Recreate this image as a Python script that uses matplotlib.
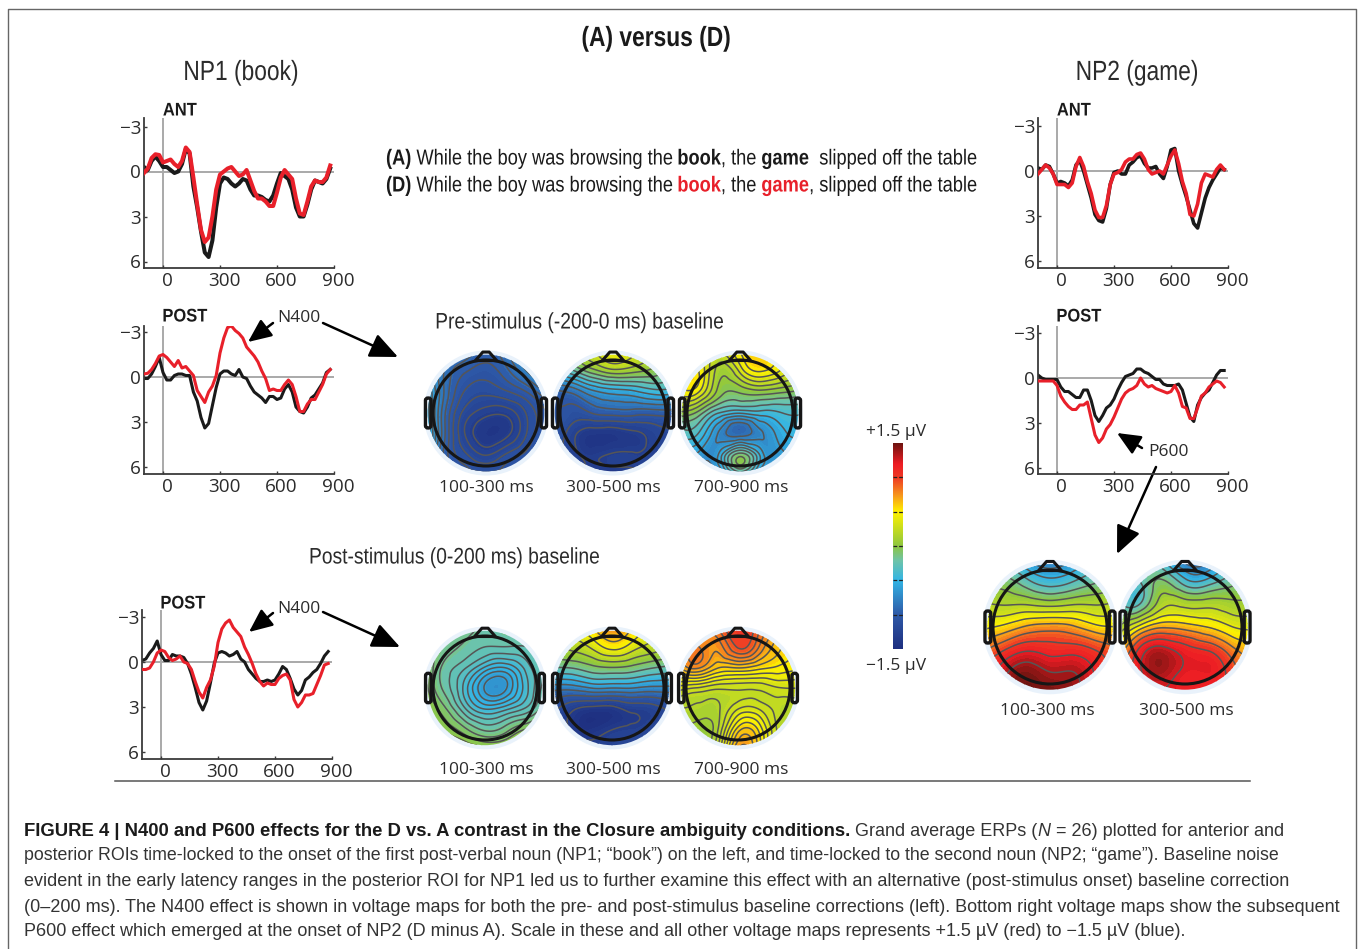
import numpy as np
import matplotlib
matplotlib.use("Agg")
import matplotlib.pyplot as plt
import matplotlib.tri as mtri
from matplotlib.colors import LinearSegmentedColormap
from matplotlib.patches import Circle, Polygon, FancyBboxPatch
from matplotlib.patheffects import AbstractPathEffect
from matplotlib.text import Text
from matplotlib.transforms import Affine2D, Bbox, ScaledTranslation

W, H = 1358, 949

# erp time base, one value every 20 ms
times = np.arange(-100, 881, 20)

np1_ant_black = [-0.3,-0.1,-0.7,-1.0,-0.7,-0.3,-0.3,-0.1,0.1,0.0,-0.5,-1.5,-1.2,1.0,2.4,4.0,5.4,5.7,4.6,2.4,0.8,0.4,0.5,0.8,1.0,0.8,0.5,0.6,1.2,1.6,1.6,1.7,1.9,2.0,1.6,0.8,0.1,0.3,0.5,1.2,2.4,3.0,3.0,2.2,1.2,0.6,0.7,0.8,0.5,-0.2]
np1_ant_red = [0.1,-0.2,-0.9,-1.15,-1.1,-0.6,-0.7,-0.8,-0.5,-0.3,-0.7,-1.6,-1.3,0.4,2.2,3.9,4.7,4.4,3.0,1.2,0.2,0.0,-0.2,-0.3,0.0,0.3,0.2,-0.1,0.6,1.3,1.8,1.8,2.0,2.3,2.3,1.4,0.4,-0.1,0.2,0.5,1.8,2.8,2.9,2.0,1.0,0.6,0.7,0.7,0.4,-0.4]
np1_post_black = [0.1,0.1,-0.2,-0.7,-1.3,-0.3,0.2,0.2,-0.1,-0.2,-0.2,-0.1,-0.1,1.0,1.6,2.7,3.4,3.1,1.9,0.7,-0.2,-0.4,-0.4,-0.2,-0.1,-0.5,0.0,0.1,0.6,1.0,1.2,1.4,1.7,1.3,1.3,1.5,1.4,0.8,0.5,1.0,2.0,2.3,2.4,2.0,1.4,1.2,0.8,0.4,-0.3,-0.5]
np1_post_red = [-0.2,-0.25,-0.5,-0.9,-1.4,-1.5,-1.3,-1.0,-0.7,-1.1,-0.6,-0.7,-0.4,-0.1,0.9,1.3,1.7,1.0,0.6,-0.1,-1.6,-2.6,-3.3,-3.4,-3.1,-2.9,-2.6,-2.0,-1.7,-1.4,-1.0,-0.4,0.1,0.9,0.8,0.9,0.9,0.5,0.2,0.5,1.3,2.3,2.3,1.8,1.5,1.5,1.0,0.5,-0.2,-0.5]
np1_base_black = [-0.1,-0.2,-0.6,-0.9,-1.4,-0.5,-0.1,-0.1,-0.5,-0.4,-0.4,-0.3,0.1,0.8,1.7,2.7,3.2,2.6,1.4,0.1,-0.6,-0.7,-0.6,-0.4,-0.5,-0.7,-0.2,0.0,0.5,0.8,1.1,1.3,1.3,1.2,1.3,1.2,0.8,0.3,0.5,1.1,1.8,2.2,1.9,1.2,1.0,0.7,0.5,0.1,-0.4,-0.7]
np1_base_red = [0.5,0.5,0.4,0.0,-0.6,-0.8,-0.7,-0.3,-0.1,-0.2,-0.4,0.0,0.1,0.5,1.3,2.0,2.4,1.7,1.2,0.3,-1.3,-2.2,-2.6,-2.8,-2.3,-2.0,-1.7,-1.0,-0.5,0.1,0.8,1.3,1.6,1.4,1.5,1.5,1.1,0.9,0.8,1.2,2.5,3.0,2.7,2.2,2.2,2.1,1.5,0.9,0.2,0.1]
np2_ant_black = [-0.2,-0.1,-0.4,-0.3,0.2,0.8,0.7,0.8,1.0,0.6,-0.4,-0.7,0.0,0.9,1.8,2.9,3.3,3.4,2.5,0.9,0.1,0.0,0.2,0.2,-0.4,-0.6,-0.9,-1.0,-0.5,-0.2,-0.2,-0.3,0.2,0.5,-0.3,-1.4,-1.5,0.0,0.9,1.7,2.6,3.5,3.8,2.8,1.8,1.1,0.6,0.2,-0.2,-0.1]
np2_ant_red = [0.2,-0.1,-0.4,-0.2,0.2,0.9,0.9,0.9,1.1,0.8,-0.3,-0.9,-0.3,0.7,1.5,2.6,3.1,3.1,2.3,0.9,0.2,0.1,-0.1,-0.6,-0.8,-0.8,-1.1,-1.2,-0.8,-0.1,0.2,0.1,0.0,0.2,-0.4,-1.0,-1.4,-0.5,0.7,1.5,2.9,3.0,2.2,0.8,0.2,0.3,0.4,-0.1,-0.4,-0.1]
np2_post_black = [-0.2,0.0,0.1,0.1,0.1,0.1,0.6,0.9,0.9,1.1,1.3,1.3,0.8,0.8,1.5,2.5,2.9,2.5,2.0,1.8,1.4,0.8,0.3,-0.1,-0.2,-0.3,-0.6,-0.6,-0.4,-0.3,-0.1,0.1,0.1,0.4,0.5,0.5,0.5,0.4,0.8,1.7,2.6,2.9,1.8,1.3,1.0,0.8,0.3,-0.2,-0.5,-0.5]
np2_post_red = [0.2,0.2,0.2,0.2,0.2,0.5,1.2,1.6,1.9,2.1,2.1,1.8,1.8,1.6,2.7,3.8,4.3,4.0,3.4,3.1,2.6,2.0,1.4,1.0,0.8,0.7,0.5,0.0,0.4,0.6,0.5,0.7,0.8,0.9,1.0,0.9,0.5,1.0,1.9,2.0,2.7,2.7,2.0,1.2,1.0,0.6,0.4,0.2,0.3,0.6]

y_ticks = [-3, 0, 3, 6]
y_tick_labels = ["\u22123", "0", "3", "6"]
x_ticks = [0, 300, 600, 900]

# voltage, 7x7 samples, top row first (front of head)
grid_pos = [-1.2, -0.8, -0.4, 0.0, 0.4, 0.8, 1.2]

pre_100_300 = [
    [-0.5,-0.7,-0.85,-0.95,-0.85,-0.6,-0.4],
    [-0.5,-0.85,-1.0,-1.05,-0.95,-0.75,-0.5],
    [-0.4,-0.85,-1.1,-1.15,-1.1,-1.0,-0.8],
    [-0.35,-0.9,-1.2,-1.3,-1.3,-1.15,-1.0],
    [-0.3,-0.9,-1.25,-1.4,-1.35,-1.15,-0.95],
    [-0.4,-0.95,-1.15,-1.25,-1.15,-1.05,-0.85],
    [-0.7,-0.95,-1.05,-1.05,-1.05,-0.95,-0.8]]
pre_300_500 = [
    [-0.1,0.05,0.25,0.4,0.3,0.15,0.0],
    [-0.5,-0.3,-0.05,0.1,0.05,-0.05,-0.2],
    [-0.95,-0.9,-0.7,-0.6,-0.55,-0.45,-0.5],
    [-1.0,-1.1,-1.05,-1.0,-1.0,-1.0,-1.0],
    [-1.0,-1.25,-1.4,-1.4,-1.35,-1.25,-1.2],
    [-1.1,-1.25,-1.35,-1.3,-1.3,-1.25,-1.2],
    [-1.2,-1.3,-1.4,-1.45,-1.4,-1.3,-1.2]]
pre_700_900 = [
    [0.4,0.4,0.3,0.5,0.55,0.4,0.3],
    [0.3,0.5,0.1,0.3,0.5,0.35,0.2],
    [0.4,0.4,0.0,-0.05,0.0,-0.05,-0.1],
    [0.0,-0.1,-0.4,-0.5,-0.45,-0.4,-0.4],
    [-0.4,-0.4,-0.75,-0.9,-0.75,-0.55,-0.5],
    [-0.6,-0.65,-0.6,-0.1,-0.55,-0.65,-0.65],
    [-0.8,-0.85,-0.8,-0.5,-0.8,-0.85,-0.8]]
post_100_300 = [
    [-0.1,-0.1,-0.15,-0.2,-0.2,-0.2,-0.15],
    [-0.05,-0.15,-0.2,-0.25,-0.25,-0.25,-0.15],
    [0.0,-0.2,-0.3,-0.45,-0.5,-0.35,-0.2],
    [0.0,-0.2,-0.4,-0.65,-0.65,-0.4,-0.2],
    [0.05,-0.1,-0.3,-0.45,-0.4,-0.3,-0.1],
    [0.1,0.0,-0.1,-0.2,-0.15,-0.05,0.0],
    [0.2,0.15,0.1,0.05,0.05,0.1,0.15]]
post_300_500 = [
    [0.1,0.3,0.6,0.75,0.6,0.3,0.2],
    [0.05,0.15,0.3,0.5,0.35,0.2,0.1],
    [-0.2,-0.2,-0.1,-0.05,-0.1,-0.2,-0.25],
    [-0.8,-0.8,-0.7,-0.7,-0.7,-0.75,-0.75],
    [-1.1,-1.3,-1.4,-1.4,-1.3,-1.25,-1.1],
    [-1.15,-1.35,-1.45,-1.35,-1.3,-1.2,-1.1],
    [-1.1,-1.2,-1.25,-1.25,-1.2,-1.1,-1.0]]
post_700_900 = [
    [0.7,0.75,0.9,1.0,0.9,0.7,0.55],
    [0.6,0.8,0.75,0.95,0.8,0.6,0.5],
    [0.6,0.75,0.6,0.6,0.55,0.5,0.45],
    [0.35,0.3,0.25,0.25,0.25,0.3,0.3],
    [0.15,0.15,0.15,0.3,0.3,0.2,0.2],
    [0.1,0.05,0.15,0.55,0.5,0.2,0.15],
    [0.05,0.05,0.25,0.75,0.55,0.2,0.1]]
p600_100_300 = [
    [-0.4,-0.45,-0.7,-0.85,-0.7,-0.5,-0.4],
    [-0.1,-0.1,-0.3,-0.45,-0.35,-0.2,-0.1],
    [0.2,0.15,0.15,0.1,0.15,0.15,0.2],
    [0.45,0.55,0.7,0.75,0.7,0.55,0.5],
    [0.8,1.0,1.15,1.1,1.1,1.0,0.85],
    [1.0,1.3,1.45,1.35,1.35,1.15,0.9],
    [1.1,1.35,1.5,1.5,1.4,1.2,1.0]]
p600_300_500 = [
    [-0.3,-0.2,-0.5,-0.9,-0.9,-0.5,-0.3],
    [-0.2,-0.3,-0.1,-0.4,-0.4,-0.2,-0.1],
    [-0.2,-0.3,0.15,0.15,0.15,0.1,0.1],
    [0.0,0.45,0.7,0.65,0.55,0.4,0.35],
    [0.5,1.1,1.3,1.15,1.05,0.8,0.6],
    [0.8,1.2,1.35,1.2,1.2,1.0,0.7],
    [1.0,1.15,1.2,1.2,1.15,1.05,0.8]]

caption_bold = "FIGURE 4 | N400 and P600 effects for the D vs. A contrast in the Closure ambiguity conditions."
caption_lines = [
    "posterior ROIs time-locked to the onset of the first post-verbal noun (NP1; \u201cbook\u201d) on the left, and time-locked to the second noun (NP2; \u201cgame\u201d). Baseline noise",
    "evident in the early latency ranges in the posterior ROI for NP1 led us to further examine this effect with an alternative (post-stimulus onset) baseline correction",
    "(0\u2013200 ms). The N400 effect is shown in voltage maps for both the pre- and post-stimulus baseline corrections (left). Bottom right voltage maps show the subsequent",
    "P600 effect which emerged at the onset of NP2 (D minus A). Scale in these and all other voltage maps represents +1.5 \u00b5V (red) to \u22121.5 \u00b5V (blue).",
]

voltage_cmap = LinearSegmentedColormap.from_list("voltage", [
    (0.00, "#1e2f80"), (0.167, "#2e5aa8"), (0.333, "#33b5e5"), (0.43, "#6fc4a8"),
    (0.50, "#8dc63f"), (0.667, "#fff200"), (0.75, "#f7941d"), (0.833, "#ee3a24"),
    (0.90, "#ed1c24"), (1.00, "#6e1410")])

NARROW = ["Liberation Sans"]
LABEL = ["Open Sans", "DejaVu Sans"]
INK = "#2b2b2b"

fig = plt.figure(figsize=(W / 100, H / 100), dpi=100, facecolor="white")
canvas = fig.add_axes([0, 0, 1, 1])
canvas.set_xlim(0, W)
canvas.set_ylim(H, 0)
canvas.axis("off")

canvas.plot([8, 8, 1356, 1356], [H, 9, 9, H], color="#666666", lw=1.0)
canvas.plot([115, 1250], [781, 781], color="#555555", lw=1.1)


def erp_panel(left, right, top, bottom, zero, black, red, lw):
    ax = fig.add_axes([left / W, 1 - bottom / H, (right - left) / W, (bottom - top) / H])
    ax.patch.set_alpha(0)
    ax.set_xlim(-100, 900)
    ax.set_ylim((bottom - zero) / 15, (top - zero) / 15)
    ax.axhline(0, color="#a9a9a9", lw=1.4, zorder=1)
    ax.axvline(0, color="#a9a9a9", lw=1.4, zorder=1)
    ax.plot(times, black, color="#1a1a1a", lw=lw, zorder=2, solid_joinstyle="round")
    ax.plot(times, red, color="#e8202a", lw=lw, zorder=3, solid_joinstyle="round")
    for side in ("top", "right"):
        ax.spines[side].set_visible(False)
    for side in ("left", "bottom"):
        ax.spines[side].set_color("#3a3a3a")
        ax.spines[side].set_linewidth(1.3)
    ax.set_xticks(x_ticks)
    ax.set_yticks(y_ticks)
    ax.set_yticklabels(y_tick_labels)
    ax.tick_params(direction="in", length=2.5, width=1, color="#3a3a3a", pad=3,
                   labelsize=13.6, labelcolor=INK)
    ax.tick_params(axis="y", pad=2)
    nudge = ScaledTranslation(4 / 100, 0, fig.dpi_scale_trans)
    for lab in ax.get_xticklabels():
        lab.set_family(LABEL)
        lab.set_transform(lab.get_transform() + nudge)
    for lab in ax.get_yticklabels():
        lab.set_family(LABEL)
    return ax


erp_panel(144, 334, 118, 268, 171.5, np1_ant_black, np1_ant_red, 2.9)
erp_panel(144, 334, 326, 474, 377, np1_post_black, np1_post_red, 2.2)
erp_panel(142, 332, 610, 759, 662, np1_base_black, np1_base_red, 2.2)
erp_panel(1038, 1228, 118, 268, 171, np2_ant_black, np2_ant_red, 2.6)
erp_panel(1038, 1228, 326, 474, 378, np2_post_black, np2_post_red, 2.2)

gx, gy = np.meshgrid(grid_pos, grid_pos)
base_tri = mtri.Triangulation(gx.ravel(), gy.ravel())
refiner = mtri.UniformTriRefiner(base_tri)
fill_levels = np.linspace(-1.5, 1.5, 61)


def head_map(cx, cy, r, values):
    canvas.add_patch(Circle((cx, cy), r * 1.18, fc="#e9f2fb", ec="none"))
    clip = Circle((cx, cy), r * 1.1, transform=canvas.transData)
    fine, field = refiner.refine_field(np.array(values, float).ravel(), subdiv=4)
    placed = mtri.Triangulation(cx + r * fine.x, cy + r * fine.y, fine.triangles)
    fill = canvas.tricontourf(placed, field, levels=fill_levels, cmap=voltage_cmap,
                              vmin=-1.5, vmax=1.5, extend="both")
    fill.set_clip_path(clip)
    # each map gets the same number of contours over its own range
    line_levels = np.linspace(field.min(), field.max(), 15)[1:-1]
    lines = canvas.tricontour(placed, field, levels=line_levels, colors="#565656",
                              linewidths=1.1, linestyles="solid")
    lines.set_clip_path(clip)
    outline = dict(fc="none", ec="#161616", lw=2.2, zorder=5)
    canvas.add_patch(Circle((cx, cy), r, **outline))
    canvas.add_patch(Polygon([(cx - 0.2 * r, cy - 0.99 * r), (cx - 0.06 * r, cy - 1.15 * r),
                              (cx + 0.06 * r, cy - 1.15 * r), (cx + 0.2 * r, cy - 0.99 * r)],
                             closed=True, joinstyle="round", **outline))
    for sign in (-1, 1):
        ear_x = cx - 1.12 * r if sign < 0 else cx + 1.06 * r
        canvas.add_patch(FancyBboxPatch((ear_x, cy - 0.26 * r), 0.06 * r, 0.52 * r,
                                        boxstyle="round,pad=1.2,rounding_size=2.5",
                                        fc="none", ec="#161616", lw=2.4, zorder=5))


maps = [(486, 413, 53, pre_100_300), (613, 413, 53, pre_300_500), (740, 413, 53, pre_700_900),
        (485, 688, 52, post_100_300), (612, 688, 52, post_300_500), (738, 688, 52, post_700_900),
        (1050, 627, 57, p600_100_300), (1185, 627, 57, p600_300_500)]
for m in maps:
    head_map(*m)

# colour scale
bar = fig.add_axes([893 / W, 1 - 649 / H, 10 / W, 206 / H])
bar.imshow(np.linspace(1.5, -1.5, 256)[:, None], aspect="auto", cmap=voltage_cmap,
           vmin=-1.5, vmax=1.5, extent=(0, 1, -1.5, 1.5))
bar.axis("off")
bar.hlines([-1.0, -0.5, 0.0, 0.5, 1.0], 0, 1, color="#222222", lw=0.9, linestyles=(0, (3, 1.5)))


def arrow(x0, y0, x1, y1, size=15):
    canvas.annotate("", xy=(x1, y1), xytext=(x0, y0), zorder=6,
                    arrowprops=dict(arrowstyle="-|>,head_length=0.95,head_width=0.42",
                                    mutation_scale=size, color="black", lw=1.8,
                                    shrinkA=0, shrinkB=0))


arrow(273, 323, 248, 342)
arrow(323, 323, 398, 357, 18)
arrow(273, 613, 249, 632)
arrow(323, 612, 400, 647, 18)
arrow(1142, 448, 1117, 433)
arrow(1156, 467, 1117, 554, 18)


# no condensed face is installed, so the glyphs are narrowed when they are drawn
class Squeeze(AbstractPathEffect):
    def __init__(self, factor):
        super().__init__()
        self.factor = factor

    def draw_path(self, renderer, gc, tpath, affine, rgbFace=None):
        renderer.draw_path(gc, tpath, Affine2D().scale(self.factor, 1) + affine, rgbFace)


class SqueezedText(Text):
    factor = 1.0

    def get_window_extent(self, renderer=None, dpi=None):
        bb = super().get_window_extent(renderer, dpi)
        return Bbox.from_extents(bb.x0, bb.y0, bb.x0 + bb.width * self.factor, bb.y1)


def narrow_text(x, y, s, size, factor, weight="normal", style="normal", color=INK, ha="left"):
    t = SqueezedText(x, y, s, fontsize=size, family=NARROW, weight=weight, style=style,
                     color=color, ha="left", va="center")
    t.factor = factor
    t.set_path_effects([Squeeze(factor)])
    canvas.add_artist(t)
    if ha == "center":
        t.set_x(x - t.get_window_extent(fig.canvas.get_renderer()).width / 2)
    return t


def label(x, y, s, size=13):
    return canvas.text(x, y + 1, s, fontsize=size, family=LABEL, color=INK, ha="center", va="center")


def text_run(x, y, pieces, size, factor):
    renderer = fig.canvas.get_renderer()
    for s, weight, style, color in pieces:
        t = narrow_text(x, y, s, size, factor, weight, style, color)
        x = t.get_window_extent(renderer).x1


narrow_text(656, 39, "(A) versus (D)", 20, 0.82, "bold", color="#1a1a1a", ha="center")
narrow_text(241, 73, "NP1 (book)", 20, 0.82, ha="center")
narrow_text(1137, 73, "NP2 (game)", 20, 0.82, ha="center")

for x, y, s in [(180, 111, "ANT"), (185, 317, "POST"), (183, 604, "POST"),
                (1074, 111, "ANT"), (1079, 317, "POST")]:
    narrow_text(x, y, s, 13.2, 0.9, "bold", color="#1a1a1a", ha="center")

black = "#1a1a1a"
red = "#e8202a"
text_run(386, 159, [("(A)", "bold", "normal", black), (" While the boy was browsing the ", "normal", "normal", black),
                    ("book", "bold", "normal", black), (", the ", "normal", "normal", black),
                    ("game", "bold", "normal", black), ("  slipped off the table", "normal", "normal", black)],
         15.6, 0.842)
text_run(386, 186, [("(D)", "bold", "normal", black), (" While the boy was browsing the ", "normal", "normal", black),
                    ("book", "bold", "normal", red), (", the ", "normal", "normal", black),
                    ("game", "bold", "normal", red), (", slipped off the table", "normal", "normal", black)],
         15.6, 0.842)

narrow_text(580, 323, "Pre-stimulus (-200-0 ms) baseline", 16.2, 0.855, ha="center")
narrow_text(455, 558, "Post-stimulus (0-200 ms) baseline", 16.2, 0.855, ha="center")
label(299, 317, "N400", 12.5)
label(299, 608, "N400", 12.5)
label(1168, 451, "P600", 12.5)
label(896, 431, "+1.5 \u00b5V", 12.5)
label(896, 665, "\u22121.5 \u00b5V", 12.5)

for x, y, s in [(486, 487, "100-300 ms"), (613, 487, "300-500 ms"), (741, 487, "700-900 ms"),
                (486, 769, "100-300 ms"), (613, 769, "300-500 ms"), (741, 769, "700-900 ms"),
                (1047, 710, "100-300 ms"), (1186, 710, "300-500 ms")]:
    label(x, y, s, 12.5)

CAP = ["Liberation Sans", "DejaVu Sans"]
cap_col = "#333333"
renderer = fig.canvas.get_renderer()
cx = 24
for s, size, weight, style, col in [(caption_bold, 13.35, "bold", "normal", "#1a1a1a"),
                                    (" Grand average ERPs (", 13.0, "normal", "normal", cap_col),
                                    ("N", 13.0, "normal", "italic", cap_col),
                                    (" = 26) plotted for anterior and", 13.0, "normal", "normal", cap_col)]:
    t = canvas.text(cx, 831, s, fontsize=size, family=CAP, weight=weight, style=style, color=col,
                    ha="left", va="center")
    cx = t.get_window_extent(renderer).x1
for y, size, s in zip([856, 882, 907, 932], [12.8, 12.95, 12.97, 13.0], caption_lines):
    canvas.text(24, y, s, fontsize=size, family=CAP, color=cap_col, ha="left", va="center")

fig.savefig("out.png", dpi=100)
